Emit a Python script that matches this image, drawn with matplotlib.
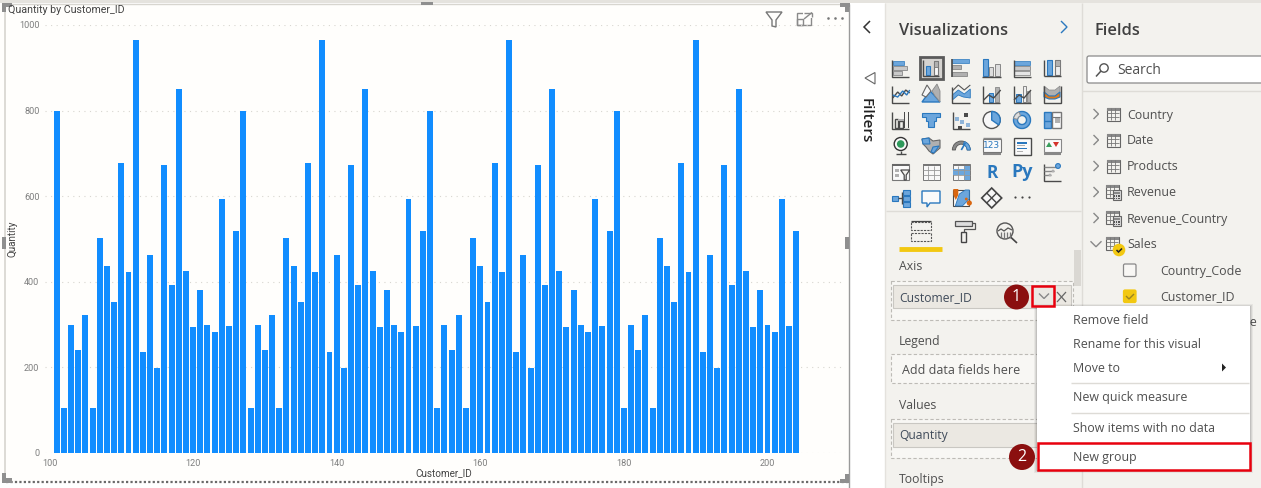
import matplotlib
matplotlib.use("Agg")
import matplotlib.pyplot as plt
from matplotlib.patches import Rectangle, Circle, Polygon, FancyBboxPatch, Wedge, Ellipse

W, H = 1261, 488
customer_ids = list(range(101, 205))
quantity = [
    800, 104, 300, 240, 322, 105, 503, 438, 352, 678, 424, 965, 236, 463, 198, 673, 392, 851, 425, 294, 382, 298, 283, 593, 296, 519,
    800, 104, 300, 240, 322, 105, 503, 438, 352, 678, 424, 965, 236, 463, 198, 673, 392, 851, 425, 294, 382, 298, 283, 593, 296, 519,
    800, 104, 300, 240, 322, 105, 503, 438, 352, 678, 424, 965, 236, 463, 198, 673, 392, 851, 425, 294, 382, 298, 283, 593, 296, 519,
    800, 104, 300, 240, 322, 105, 503, 438, 352, 678, 424, 965, 236, 463, 198, 673, 392, 851, 425, 294, 382, 298, 283, 593, 296, 519,
]
x_ticks = [100, 120, 140, 160, 180, 200]
y_ticks = [0, 200, 400, 600, 800, 1000]
chart_title = "Quantity by Customer_ID"
x_title = "Customer_ID"
y_title = "Quantity"
field_tables = ["Country", "Date", "Products", "Revenue", "Revenue_Country"]
menu_items = ["Remove field", "Rename for this visual", "Move to", "New quick measure", "Show items with no data", "New group"]

UI = "Open Sans"
CH = "Roboto"
BAR = "#118DFF"
PANEL = "#F3F2EE"
BLUE = "#6CA6DC"
DBLUE = "#2A78BE"
GR = "#B0B0B0"
DK = "#4A4A4A"
TXT = "#4F4F4F"
RED = "#E8000D"
MAROON = "#8B0F0F"
YEL = "#F2C811"

fig = plt.figure(figsize=(W / 100, H / 100), dpi=100, facecolor="white")
bg = fig.add_axes([0, 0, 1, 1], zorder=1)
bg.set_xlim(0, W); bg.set_ylim(H, 0); bg.axis("off")


def rect(x0, y0, x1, y1, fc="none", ec="none", lw=1, z=2, ls="-", a=None):
    bg.add_patch(Rectangle((x0, y0), x1 - x0, y1 - y0, fc=fc, ec=ec, lw=lw, zorder=z, ls=ls, alpha=a))


def line(xs, ys, c=DK, lw=1, z=3, ls="-"):
    bg.plot(xs, ys, color=c, lw=lw, zorder=z, ls=ls, solid_capstyle="butt", solid_joinstyle="miter")


def poly(pts, fc="none", ec="none", lw=1, z=3):
    bg.add_patch(Polygon(pts, closed=True, fc=fc, ec=ec, lw=lw, zorder=z))


def text(x, y, s, size=8.9, c=TXT, ha="left", va="center", fam=UI, z=6, **kw):
    bg.text(x, y + 1, s, fontsize=size, color=c, ha=ha, va=va, family=fam, zorder=z, **kw)


def chevron(cx, cy, d, s=4.5, c="#6A6A6A", lw=1):
    if d == "r":
        line([cx - s / 2, cx + s / 2, cx - s / 2], [cy - s, cy, cy + s], c, lw)
    elif d == "l":
        line([cx + s / 2, cx - s / 2, cx + s / 2], [cy - s, cy, cy + s], c, lw)
    else:
        line([cx - s, cx, cx + s], [cy - s / 2, cy + s / 2, cy - s / 2], c, lw)


def axes_L(cx, cy, s=8.5):
    line([cx - s, cx - s, cx + s], [cy - s, cy + s, cy + s], DK, 1)


def icon(i, cx, cy):
    if i == 0:
        axes_L(cx, cy)
        rect(cx - 8, cy - 7, cx + 3, cy - 3, fc=BLUE, ec=DBLUE, lw=.5); rect(cx - 8, cy - 2, cx + 6, cy + 2, fc="#C9C9C9", ec="#777", lw=.5); rect(cx - 8, cy + 3, cx + 1, cy + 7, fc="#C9C9C9", ec="#777", lw=.5)
    elif i == 1:
        rect(cx - 11.5, cy - 11, cx + 11.5, cy + 11, fc="#D5D3D0", ec="#5A5A5A", lw=2)
        axes_L(cx, cy, 8)
        rect(cx - 5, cy - 2, cx - 1, cy + 7, fc=BLUE, ec=DBLUE, lw=.8); rect(cx + 3, cy - 7, cx + 7, cy + 7, fc="#F7F7F7", ec="#777", lw=.8); rect(cx + 3, cy - 7, cx + 7, cy - 1, fc=GR, ec="#777", lw=.6)
    elif i == 2:
        rect(cx - 9, cy - 9, cx + 8, cy - 5, fc=BLUE, ec=DBLUE, lw=.5); rect(cx - 9, cy - 3, cx, cy + 1, fc=GR, ec="#777", lw=.5); rect(cx - 9, cy + 4, cx + 6, cy + 8, fc=GR, ec="#777", lw=.5); line([cx - 9, cx - 9], [cy - 9, cy + 9], DK, 1.2)
    elif i == 3:
        rect(cx - 9, cy - 9, cx - 4, cy + 8, fc=BLUE, ec=DBLUE, lw=.8); rect(cx - 3, cy - 1, cx + 1, cy + 8, fc="#DDD", ec="#888", lw=.7); rect(cx + 3, cy - 4, cx + 8, cy + 8, fc="#DDD", ec="#888", lw=.7); line([cx - 10, cx + 9], [cy + 8.5, cy + 8.5], DK, 1)
    elif i == 4:
        axes_L(cx, cy)
        rect(cx - 8, cy - 7, cx + 8, cy - 3, fc=BLUE, ec=DBLUE, lw=.5); rect(cx - 8, cy - 2, cx + 8, cy + 2, fc="#C9C9C9", ec="#777", lw=.5); rect(cx - 8, cy + 3, cx + 8, cy + 7, fc="#E5E5E5", ec="#777", lw=.5)
    elif i == 5:
        rect(cx - 5, cy - 8, cx, cy + 7, fc=BLUE, ec=DBLUE, lw=.8); rect(cx + 3, cy - 8, cx + 8, cy + 7, fc="#EEE", ec="#777", lw=.8); rect(cx + 3, cy - 8, cx + 8, cy - 2, fc=GR, ec="#777", lw=.6); line([cx - 8, cx - 8], [cy - 8, cy + 8], DK, 1); line([cx - 8, cx + 9], [cy + 8, cy + 8], DK, 1)
    elif i == 6:
        axes_L(cx, cy)
        line([cx - 8, cx - 3, cx + 1, cx + 5, cx + 9], [cy + 4, cy - 2, cy + 2, cy - 4, cy - 1], DK, 1); line([cx - 8, cx - 3, cx + 2, cx + 6, cx + 9], [cy + 1, cy + 3, cy - 3, cy + 1, cy - 4], DBLUE, 1)
    elif i == 7:
        poly([(cx - 9, cy + 8), (cx - 1, cy - 3), (cx + 3, cy + 1), (cx + 9, cy + 8)], fc=BLUE, ec=DBLUE)
        poly([(cx - 9, cy + 1), (cx - 4, cy - 9), (cx, cy - 3), (cx - 5, cy + 3)], fc="#F7F7F7", ec="#666", lw=.8); poly([(cx + 1, cy - 3), (cx + 6, cy - 10), (cx + 9, cy - 3), (cx + 9, cy + 8), (cx + 4, cy + 2)], fc=GR, ec="#888", lw=.6)
    elif i == 8:
        poly([(cx - 9, cy + 1), (cx - 3, cy - 4), (cx + 3, cy), (cx + 9, cy - 5), (cx + 9, cy + 4), (cx + 2, cy + 3), (cx - 3, cy + 1), (cx - 9, cy + 6)], fc=BLUE, ec=DBLUE, lw=.6)
        line([cx - 9, cx - 3, cx + 3, cx + 9], [cy - 3, cy - 9, cy - 4, cy - 9], "#555", .8); line([cx - 9, cx - 9, cx + 9], [cy - 7, cy + 8.5, cy + 8.5], DK, 1)
    elif i in (9, 10):
        axes_L(cx, cy)
        if i == 9:
            rect(cx - 3, cy - 1, cx + 1, cy + 8, fc=BLUE, ec=DBLUE, lw=.7); rect(cx + 3, cy - 7, cx + 7, cy + 8, fc=GR, ec="#888", lw=.6)
        else:
            rect(cx - 6, cy, cx - 1, cy + 8, fc=BLUE, ec=DBLUE, lw=.7); rect(cx + 1, cy - 8, cx + 4, cy + 8, fc="#EEE", ec="#777", lw=.6); rect(cx + 5, cy - 3, cx + 8, cy + 8, fc=GR, ec="#888", lw=.6)
        line([cx - 8, cx - 3, cx + 2, cx + 9], [cy + 6, cy + 1, cy + 4, cy - 4], DK, 1)
    elif i == 11:
        poly([(cx - 8, cy - 8), (cx - 3, cy - 4), (cx + 3, cy - 4), (cx + 8, cy - 8), (cx + 8, cy - 2), (cx + 3, cy + 2), (cx - 3, cy + 2), (cx - 8, cy - 2)], fc=GR, ec="#888", lw=.5)
        poly([(cx - 8, cy - 2), (cx - 3, cy + 2), (cx + 3, cy + 2), (cx + 8, cy - 2), (cx + 8, cy + 3), (cx + 3, cy + 5), (cx - 3, cy + 5), (cx - 8, cy + 3)], fc="#E07B1A", ec=DBLUE, lw=.8)
        line([cx - 8.5, cx - 8.5, cx + 8.5, cx + 8.5], [cy - 8, cy + 8.5, cy + 8.5, cy - 8], DK, 1)
    elif i == 12:
        axes_L(cx, cy)
        rect(cx - 6, cy - 1, cx - 3, cy + 8, ec=DK); rect(cx - 2, cy + 1, cx + 2, cy + 8, ec=DK); rect(cx + 3, cy - 8, cx + 4, cy + 8, fc=DK); rect(cx + 7, cy - 8, cx + 8, cy + 8, fc=DK); rect(cx - 3, cy - 1, cx + 3, cy + 1, fc=GR)
    elif i == 13:
        poly([(cx - 9, cy - 7), (cx + 9, cy - 7), (cx + 9, cy - 3), (cx + 5, cy - 3), (cx + 5, cy + 1), (cx + 3, cy + 1), (cx + 3, cy + 7), (cx - 3, cy + 7), (cx - 3, cy + 1), (cx - 5, cy + 1), (cx - 5, cy - 3), (cx - 9, cy - 3)], fc=BLUE, ec=DBLUE, lw=.8)
    elif i == 14:
        axes_L(cx, cy)
        for dx, dy, c in [(-6, -3, "#8FB4D8"), (-1, 0, "#8FB4D8"), (5, 3, "#8FB4D8"), (3, -7, DK), (-3, 6, DK)]:
            rect(cx + dx, cy + dy, cx + dx + 3.5, cy + dy + 3.5, fc=c)
    elif i == 15:
        bg.add_patch(Circle((cx, cy), 8.5, fc="#F7F7F7", ec="#555", lw=1, zorder=3))
        bg.add_patch(Wedge((cx, cy), 8.5, 270, 395, fc=BLUE, ec=DBLUE, lw=1, zorder=3))
    elif i == 16:
        bg.add_patch(Wedge((cx, cy), 8.5, 0, 360, width=4, fc=BLUE, ec=DBLUE, lw=1, zorder=3))
        bg.add_patch(Wedge((cx, cy), 8.5, 190, 250, width=4, fc="#DDD", ec="#888", lw=.6, zorder=3))
    elif i == 17:
        rect(cx - 8.5, cy - 8, cx - 1, cy + 8, fc=BLUE, ec=DBLUE, lw=1); line([cx - 8, cx - 1], [cy + 1, cy + 1], DBLUE, 1)
        rect(cx, cy - 8, cx + 8.5, cy + 8, fc="#FAFAFA", ec="#777", lw=1); rect(cx + 3, cy - 3, cx + 8, cy + 3, fc=GR); line([cx, cx + 8], [cy - 3, cy - 3], "#777", .8)
    elif i == 18:
        bg.add_patch(Circle((cx, cy - 2), 6.5, fc="#FAFAFA", ec="#333", lw=1, zorder=3)); bg.add_patch(Circle((cx, cy - 2), 3.8, fc="#2E9A5B", zorder=3)); line([cx - 5, cx + 5], [cy + 7.5, cy + 7.5], DK, 1); line([cx, cx], [cy + 4.5, cy + 7.5], DK, 1)
    elif i == 19:
        poly([(cx - 9, cy - 7), (cx - 2, cy - 8), (cx + 2, cy - 5), (cx + 9, cy - 6), (cx + 9, cy + 2), (cx + 2, cy + 8), (cx - 2, cy + 5), (cx - 5, cy + 1), (cx - 8, cy - 2)], fc=GR, ec="#666", lw=.8); poly([(cx - 9, cy - 7), (cx - 2, cy - 8), (cx - 1, cy - 2), (cx - 8, cy - 2)], fc=BLUE, ec=DBLUE, lw=.8); poly([(cx + 2, cy + 1), (cx + 8, cy), (cx + 3, cy + 7), (cx, cy + 6)], fc=BLUE, ec=DBLUE, lw=.8)
    elif i == 20:
        bg.add_patch(Wedge((cx, cy + 4), 9, 180, 360, width=3.2, fc="#8A8A8A", ec="#555", lw=.6, zorder=3))
        bg.add_patch(Wedge((cx, cy + 4), 9, 290, 360, width=3.2, fc=BLUE, ec=DBLUE, lw=.6, zorder=3))
        line([cx, cx + 4], [cy + 4, cy - 3], DBLUE, 1.2)
    elif i == 21:
        rect(cx - 9, cy - 7, cx + 9, cy + 6, fc="#FAFAFA", ec="#777", lw=.8); line([cx - 9, cx + 9], [cy + 7.5, cy + 7.5], "#888", 1.5); line([cx - 9, cx + 9], [cy - 8, cy - 8], "#888", 1)
        text(cx, cy - 1.5, "123", size=6.5, c=DBLUE, ha="center", fam="DejaVu Sans")
    elif i == 22:
        rect(cx - 8.5, cy - 8.5, cx + 8.5, cy + 8.5, fc="#FAFAFA", ec=DK, lw=1); rect(cx - 5, cy - 4, cx + 5, cy - 2.5, fc=DBLUE); rect(cx - 5, cy - 1, cx + 3, cy, fc=GR); rect(cx - 5, cy + 2, cx + 5, cy + 3, fc=DBLUE); rect(cx - 5, cy + 4.5, cx + 1, cy + 5.5, fc=GR)
    elif i == 23:
        rect(cx - 8.5, cy - 7, cx + 8.5, cy + 6, fc="#FAFAFA", ec="#888", lw=.8); poly([(cx - 6, cy + 1), (cx - 3, cy - 4), (cx, cy + 1)], fc="#3A9E5C"); poly([(cx + 1, cy - 4), (cx + 7, cy - 4), (cx + 4, cy + 1)], fc="#D4342C"); line([cx - 8.5, cx + 8.5], [cy + 7.5, cy + 7.5], "#888", 1.5)
    elif i == 24:
        rect(cx - 8.5, cy - 8, cx + 8.5, cy + 8, fc="#FAFAFA", ec="#777", lw=.8); rect(cx - 8.5, cy - 8, cx + 8.5, cy - 6, fc="#666"); rect(cx - 6, cy - 3, cx - 2, cy, fc=GR); rect(cx - 6, cy + 2, cx - 2, cy + 5, fc=GR); poly([(cx, cy - 2), (cx + 9, cy - 2), (cx + 5.5, cy + 3), (cx + 5.5, cy + 8), (cx + 3.5, cy + 8), (cx + 3.5, cy + 3)], fc="#F3F2EE", ec=DK, lw=.9)
    elif i == 25 or i == 26:
        rect(cx - 8.5, cy - 8, cx + 8.5, cy + 8, fc="#F8F8F8", ec="#777", lw=.7); rect(cx - 8.5, cy - 8, cx + 8.5, cy - 6, fc="#777")
        if i == 26:
            rect(cx - 8.5, cy - 3, cx + 8.5, cy + 3, fc=BLUE); rect(cx + 3, cy - 6, cx + 8.5, cy + 8, fc=BLUE)
        for dx in (-3, 3):
            line([cx + dx, cx + dx], [cy - 6, cy + 8], "#999", .6)
        for dy in (-2, 3):
            line([cx - 8.5, cx + 8.5], [cy + dy, cy + dy], "#999", .6)
    elif i == 27:
        text(cx, cy, "R", size=12.5, c=DBLUE, ha="center", fam="Open Sans", fontweight="bold")
    elif i == 28:
        text(cx, cy - 1, "Py", size=13, c=DBLUE, ha="center", fam="Open Sans", fontweight="bold")
    elif i == 29:
        line([cx - 8.5, cx - 8.5, cx + 8.5], [cy - 8, cy + 8.5, cy + 8.5], DK, 1); line([cx - 8, cx + 5], [cy - 5, cy - 5], "#888", 1); line([cx - 8, cx + 2], [cy - 1, cy - 1], "#888", 1); line([cx - 8, cx - 1], [cy + 3, cy + 3], "#888", 1)
        bg.add_patch(Circle((cx + 6, cy - 6), 2.4, fc=BLUE, ec=DBLUE, lw=.8, zorder=4)); bg.add_patch(Circle((cx + 1, cy - 1), 1.4, fc=GR, zorder=4)); bg.add_patch(Circle((cx - 2, cy + 3), 1.4, fc=GR, zorder=4))
    elif i == 30:
        rect(cx - 9, cy - 2, cx - 3, cy + 3, fc=BLUE, ec=DBLUE, lw=.8)
        for dy in (-8, -2, 4):
            rect(cx + 2, cy + dy, cx + 9, cy + dy + 5, fc=BLUE, ec=DBLUE, lw=.8)
        line([cx - 3, cx + 1], [cy, cy], DK, 1); line([cx + 1, cx + 1], [cy - 6, cy + 6], DK, 1)
    elif i == 31:
        poly([(cx - 9, cy - 7), (cx + 9, cy - 7), (cx + 9, cy + 5), (cx - 1, cy + 5), (cx - 4, cy + 9), (cx - 4, cy + 5), (cx - 9, cy + 5)], fc="#FAFAFA", ec=DBLUE, lw=1)
    elif i == 32:
        rect(cx - 8, cy - 8, cx + 8, cy + 8, fc="#FAFAFA", ec=DK, lw=.8); poly([(cx - 2, cy - 4), (cx + 4, cy - 8), (cx + 8, cy - 8), (cx + 8, cy + 1), (cx + 1, cy + 8), (cx - 6, cy + 8)], fc=BLUE, ec=DBLUE, lw=.6); poly([(cx - 8, cy - 9), (cx - 3, cy - 9), (cx - 3, cy - 3), (cx - 5.5, cy + 2), (cx - 8, cy - 3)], fc="#D9660F"); bg.add_patch(Circle((cx + 8, cy + 5), 2.6, fc="#D9660F", zorder=4)); bg.add_patch(Circle((cx + 5, cy + 1), 1.4, fc="#D9660F", zorder=4))
    elif i == 33:
        poly([(cx, cy - 10), (cx + 10, cy), (cx, cy + 10), (cx - 10, cy)], fc="#F7F7F7", ec="#444", lw=1.2); line([cx - 5, cx + 5], [cy - 5, cy + 5], "#444", 1); line([cx + 5, cx - 5], [cy - 5, cy + 5], "#444", 1)
    elif i == 34:
        bg.scatter([cx - 7, cx, cx + 7], [cy - 1, cy - 1, cy - 1], s=2.5, color="#444", zorder=4, linewidths=0)


def table_icon(cx, cy, calc=False):
    rect(cx - 6.5, cy - 6.5, cx + 6.5, cy + 6.5, fc="#F3F2EE", ec="#666", lw=.8, z=4)
    rect(cx - 6.5, cy - 6.5, cx + 6.5, cy - 3.5, fc="#888", z=4)
    for d in (-2, 2):
        line([cx + d, cx + d], [cy - 6, cy + 6], "#777", .6, z=4)
        line([cx - 6, cx + 6], [cy + d + 1, cy + d + 1], "#777", .6, z=4)
    if calc:
        rect(cx + 0.5, cy - 1, cx + 9, cy + 9, fc="#D9D9D9", ec="#666", lw=.8, z=5)
        rect(cx + 2, cy + .5, cx + 7.5, cy + 3, fc="#888", z=5)
        for dy in (5, 7.3):
            for dx in (2.5, 4.7, 6.9):
                rect(cx + dx - .6, cy + dy - .6, cx + dx + .6, cy + dy + .6, fc="#555", z=5)


# ---------- backgrounds ----------
rect(0, 0, W, H, fc="white", z=0)
rect(0, 4, 849, 482, fc="#FFFEFC", z=0.5)
rect(885, 0, 1081, H, fc=PANEL, z=0.5)
rect(1081, 0, W, H, fc=PANEL, z=0.5)
rect(0, 0, W, 3, fc="#E5E3DE", z=1)
line([885, 885], [3, H], "#E4E2DD", 1, z=1)
line([1081.5, 1081.5], [3, H], "#DEDCD7", 1, z=1)
line([886, 1081], [211, 211], "#DEDCD7", 1, z=1)
line([1082, W], [91, 91], "#DEDCD7", 1, z=1)

# ---------- visual frame ----------
line([5, 5], [4, 482], "#DAD8D2", 1.3)
line([849, 849], [4, 488], "#9A9A9A", 1)
line([5, 849], [4, 4], "#D8D6D0", 1)
line([6, 849], [482, 482], "#6A6A6A", 1.6, ls=(0, (1, 1)))
for x0, y0, x1, y1 in [(2, 3, 12, 7), (2, 3, 6, 12), (2, 237, 6, 249), (845, 237, 849, 249), (421, 2, 433, 5),
                       (840, 3, 850, 7), (845, 3, 849, 12), (2, 478, 12, 483), (2, 473, 6, 483), (840, 479, 849, 483), (845, 474, 849, 483)]:
    rect(x0, y0, x1, y1, fc="#8F8F8F", z=4)
# visual header icons
poly([(766, 12), (782, 12), (776, 20), (776, 27), (772, 26), (772, 20)], ec="#777777", lw=1)
rect(797, 12.5, 811, 24.5, ec="#8A8A8A", lw=1)
rect(797, 18.5, 803, 24.5, ec="#8A8A8A", lw=1)
rect(803, 10, 813, 18, fc="#FFFEFC", z=3)
line([804, 812, 812], [12.5, 12.5, 17], "#8A8A8A", 1, z=4)
line([804, 812], [19, 12.5], "#8A8A8A", 1, z=4)
bg.scatter([828, 835, 842], [17.5, 17.5, 17.5], s=3.5, color="#777777", linewidths=0, zorder=4)

# ---------- filters strip ----------
chevron(867, 27, "l", s=6, c="#333333", lw=1.1)
poly([(865, 78), (875, 72.5), (875, 84)], ec="#666666", lw=.8)
bg.text(866, 121, "Filters", fontsize=11, color="#222222", ha="center", va="center", family=UI, fontweight="semibold", rotation=-90, zorder=6)

# ---------- visualizations panel ----------
text(899, 30, "Visualizations", size=11.8, c="#404040", fontweight="semibold")
chevron(1064, 27, "r", s=6, c="#2A78BE", lw=1)
cols = [900.7, 931, 961.3, 991.7, 1022, 1052]
rows = [68, 94, 120, 146, 172, 198]
k = 0
for cy in rows:
    for cx in cols:
        if k <= 34:
            icon(k, cx, cy)
        k += 1

# field-well tabs
rect(911, 222, 931, 230, ec="#555", lw=.8, ls=(0, (2, 1)))
rect(911, 233, 931, 241, ec="#555", lw=.8, ls=(0, (2, 1)))
line([911, 931], [220.5, 220.5], "#444", .9)
line([899, 942], [248.5, 248.5], YEL, 3.5)
rect(955, 221, 972, 226, fc="#DDD", ec="#555", lw=.9)
line([972, 975, 975, 964, 964], [223, 223, 229, 229, 232], "#555", .9)
rect(961, 232, 966, 242, fc="#F3F2EE", ec="#444", lw=1)
bg.add_patch(Circle((1005, 231), 8, fc="#F3F2EE", ec="#555", lw=1, zorder=3))
line([998, 1001, 1004, 1008, 1012], [231, 229, 231, 228, 230], "#555", .9, z=4)
line([1010.5, 1017], [237, 243], "#444", 1.2, z=4)
for dx in (-4, -1, 2, 5):
    line([1005 + dx, 1005 + dx], [232, 238], "#777", .9, z=4)
rect(1074, 250, 1081, 286, fc="#DAD8D3", z=2)

# field wells
text(899, 266, "Axis", size=8.8)
rect(891, 281, 1073, 319.5, fc="#F8F7F4", ec="#BDBBB6", lw=.8, ls=(0, (3, 2)))
rect(893, 285, 1071, 308, fc="#EBE8E2", ec="#C9C7C2", lw=.8)
text(899, 297, "Customer_ID", size=8.7, c="#404B5A")
line([1057, 1066], [292, 302], "#666", .9, z=4)
line([1066, 1057], [292, 302], "#666", .9, z=4)
chevron(1044, 296, "d", s=5, c="#888888", lw=1)
rect(1032, 286, 1054, 306, ec=RED, lw=1.8, z=5)
bg.add_patch(Ellipse((1016.5, 297), 25, 25, fc=MAROON, zorder=6))
text(1016.5, 296, "1", size=11.5, c="white", ha="center", z=7)
text(899, 340.5, "Legend", size=8.8)
rect(891, 354, 1073, 383, fc="#F8F7F4", ec="#BDBBB6", lw=.8, ls=(0, (3, 2)))
text(902, 369, "Add data fields here", size=9)
text(899, 404.5, "Values", size=8.8)
rect(891, 419, 1073, 457.5, fc="#F8F7F4", ec="#BDBBB6", lw=.8, ls=(0, (3, 2)))
rect(893, 423, 1071, 447, fc="#EBE8E2", ec="#C9C7C2", lw=.8)
text(899, 435, "Quantity", size=8.7, c="#404B5A")
text(899, 478, "Tooltips", size=8.8)

# ---------- fields panel ----------
text(1095, 30, "Fields", size=11.8, c="#404040", fontweight="semibold")
bg.add_patch(FancyBboxPatch((1087, 56), 180, 27, boxstyle="round,pad=0,rounding_size=2", fc="white", ec="#8A8A8A", lw=.9, zorder=2))
bg.add_patch(Circle((1104, 68), 4.2, fc="none", ec="#555", lw=1, zorder=3))
line([1101, 1096], [71, 76.5], "#555", 1.1)
text(1117, 70, "Search", size=10)
ys = [114, 140, 166, 192, 218]
for j, (name, y) in enumerate(zip(field_tables, ys)):
    chevron(1096, y, "r", s=5, c="#888888", lw=1)
    table_icon(1113 - (1 if j > 2 else 0), y - (1 if j > 2 else 0), calc=j > 2)
    text(1127, y, name, size=8.9)
chevron(1096, 244, "d", s=5.5, c="#888888", lw=1)
table_icon(1112, 243)
bg.add_patch(Circle((1119, 250), 6.3, fc=YEL, zorder=5))
line([1116.5, 1118.5, 1122], [250, 252, 248.5], "#222", 1.1, z=6)
text(1127, 244, "Sales", size=8.9)
bg.add_patch(FancyBboxPatch((1123.5, 264), 12.5, 12.5, boxstyle="round,pad=0,rounding_size=1.5", fc="#F8F7F4", ec="#888", lw=.9, zorder=3))
text(1160, 270, "Country_Code", size=8.9)
bg.add_patch(FancyBboxPatch((1123.5, 290), 12.5, 12.5, boxstyle="round,pad=0,rounding_size=1.5", fc=YEL, ec=YEL, lw=.9, zorder=3))
line([1126, 1129, 1134], [296, 299, 294], "#9A8420", 1, z=4)
text(1160, 296, "Customer_ID", size=8.9)
text(1160, 321, "Customer_Name", size=8.9, z=3)

# ---------- context menu ----------
for d, a in [(3, .05), (2, .07), (1, .09)]:
    rect(1037 - d, 306 - d + 1, 1250 + d, 470 + d, fc="#000000", a=a, z=3.5)
rect(1037, 306, 1250, 470, fc="white", z=4)
menu_y = [319, 343, 367, 397, 427, 456]
for item, y in zip(menu_items, menu_y):
    text(1073, y, item, size=8.9, z=7)
poly([(1222, 363.5), (1226, 367.5), (1222, 371.5)], fc="#222222", z=7)
line([1071, 1249], [383, 383], "#DDDBD6", 1, z=5)
line([1071, 1249], [412.5, 412.5], "#DDDBD6", 1, z=5)
rect(1037.5, 443, 1250, 470, ec=RED, lw=1.8, z=8)
bg.add_patch(Ellipse((1022, 457), 26, 26, fc=MAROON, zorder=9))
text(1022, 456, "2", size=11.5, c="white", ha="center", z=10)

# ---------- chart ----------
PX = 7.18
x0_px, x1_px = 45.0, 841.7
y0_px, y1_px = 453.0, 25.0
ax = fig.add_axes([x0_px / W, 1 - y0_px / H, (x1_px - x0_px) / W, (y0_px - y1_px) / H], zorder=5)
ax.patch.set_alpha(0)
ax.set_xlim(100 - (49.5 - x0_px) / PX, 100 + (x1_px - 49.5) / PX)
ax.set_ylim(0, 1000)
ax.bar(customer_ids, quantity, width=0.83, color=BAR, zorder=3, linewidth=0)
ax.set_xticks(x_ticks)
ax.set_yticks(y_ticks)
ax.tick_params(length=0, labelsize=6.6, labelcolor="#7F7F7F")
ax.tick_params(axis="x", pad=4)
ax.tick_params(axis="y", pad=4)
for lab in ax.get_xticklabels() + ax.get_yticklabels():
    lab.set_family(CH)
ax.grid(axis="y", color="#D8D6D0", lw=0.8, ls=(0, (1, 4)), zorder=0)
ax.set_axisbelow(True)
for s in ax.spines.values():
    s.set_visible(False)
ax.set_xlabel(x_title, fontsize=7.1, color="#444444", family=CH)
ax.xaxis.set_label_coords((444 - x0_px) / (x1_px - x0_px), -(473 - y0_px) / (y0_px - y1_px), transform=ax.transAxes)
ax.xaxis.label.set_va("center")
ax.set_ylabel(y_title, fontsize=7.1, color="#444444", family=CH)
ax.yaxis.set_label_coords((13 - x0_px) / (x1_px - x0_px), (y0_px - 239) / (y0_px - y1_px), transform=ax.transAxes)
ax.yaxis.label.set_va("center")
ax.set_title(chart_title, loc="left", fontsize=7.7, color="#444444", family=CH,
             x=(8 - x0_px) / (x1_px - x0_px), y=(y0_px - 13) / (y0_px - y1_px), pad=0)

fig.savefig("out.png", dpi=100, facecolor="white")
